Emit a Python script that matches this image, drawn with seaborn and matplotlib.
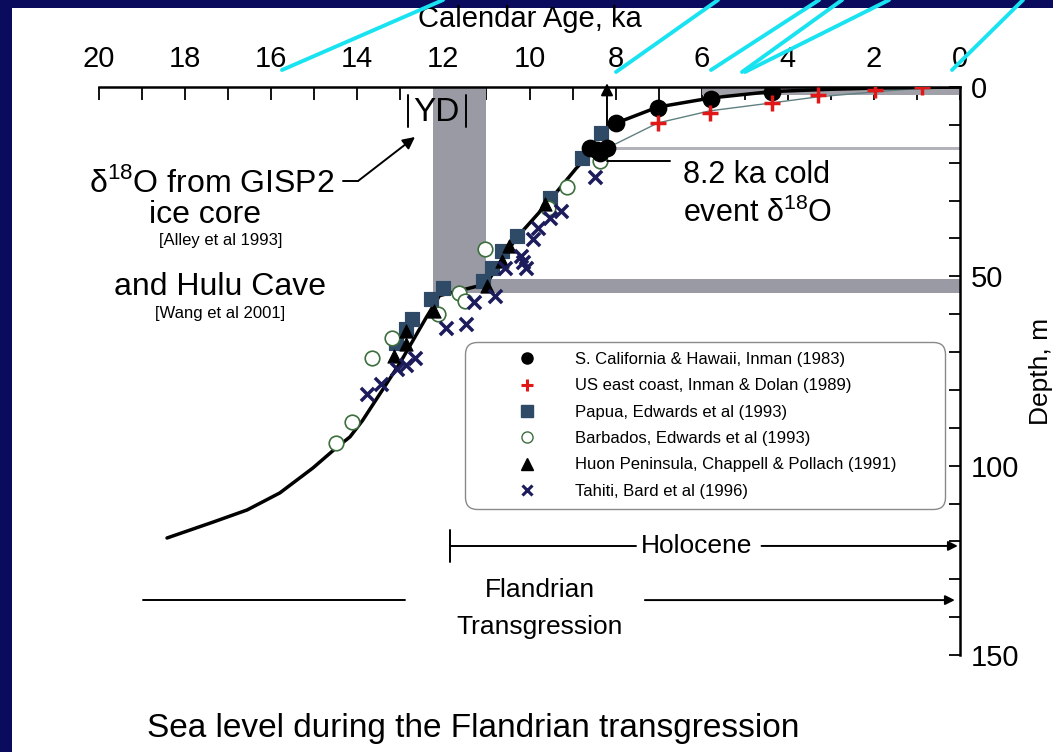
import matplotlib
matplotlib.use("Agg")
import matplotlib.pyplot as plt
import seaborn as sns
from matplotlib.lines import Line2D
from matplotlib.patches import Rectangle

sns.set_style("white")
plt.rcParams['font.family'] = ['Liberation Sans', 'DejaVu Sans']
plt.rcParams['mathtext.fontset'] = 'custom'
plt.rcParams['mathtext.rm'] = 'Liberation Sans'
plt.rcParams['text.color'] = 'black'
plt.rcParams['axes.labelcolor'] = 'black'
plt.rcParams['xtick.color'] = 'black'
plt.rcParams['ytick.color'] = 'black'

# ---- data (ages in ka, depth in m) ----
curve_age = [18.42, 17.35, 16.56, 15.80, 15.03, 14.47, 14.17, 13.88, 13.02,
             12.40, 12.09, 11.00, 10.77, 10.30, 9.60, 8.91, 8.53, 8.19]
curve_depth = [119.1, 114.9, 111.7, 107.2, 100.6, 95.1, 92.4, 88.1, 73.1,
               60.9, 55.1, 52.0, 47.8, 39.8, 30.9, 21.4, 16.9, 16.1]
upper_age = [7.98, 7.02, 5.79, 4.37, 3.0, 2.0, 0.0]
upper_depth = [9.5, 5.3, 2.9, 1.2, 0.6, 0.3, 0.0]
thin_age = [8.19, 7.02, 5.81, 4.37, 3.30, 1.98, 0.93, 0.0]
thin_depth = [16.1, 9.5, 6.3, 4.2, 2.6, 1.3, 0.3, 0.0]

calif_age = [7.98, 7.02, 5.79, 4.37, 8.60, 8.44, 8.19, 8.37]
calif_depth = [9.5, 5.5, 3.2, 1.3, 16.0, 16.6, 16.1, 17.4]
east_age = [7.02, 5.81, 4.37, 3.30, 1.98, 0.88]
east_depth = [9.5, 6.9, 4.2, 2.1, 0.8, 0.0]
papua_age = [8.33, 8.77, 9.53, 10.30, 10.63, 10.86, 11.09, 12.02, 12.28,
             12.74, 12.86, 13.09]
papua_depth = [12.1, 18.7, 29.3, 39.3, 43.3, 47.8, 51.2, 53.0, 55.9,
               61.2, 63.9, 67.5]
barb_age = [8.37, 9.12, 9.58, 11.03, 11.63, 11.49, 12.12, 13.19, 13.65,
            14.12, 14.49]
barb_depth = [19.5, 26.3, 31.9, 42.7, 54.4, 56.5, 59.9, 66.2, 71.5,
              88.5, 93.9]
huon_age = [9.65, 10.47, 10.65, 10.98, 12.21, 12.86, 12.86, 13.14]
huon_depth = [30.9, 42.0, 45.9, 52.5, 59.1, 64.4, 67.8, 71.0]
tahiti_age = [8.49, 9.26, 9.53, 9.81, 9.93, 10.19, 10.16, 10.07, 10.58,
              10.81, 11.28, 11.47, 11.93, 12.67, 12.86, 13.07, 13.44, 13.77]
tahiti_depth = [23.8, 32.7, 34.6, 37.2, 40.1, 44.6, 46.2, 47.8, 47.8,
                55.1, 56.7, 62.6, 63.6, 71.5, 73.3, 74.4, 78.4, 81.0]

legend_labels = ["S. California & Hawaii, Inman (1983)",
                 "US east coast, Inman & Dolan (1989)",
                 "Papua, Edwards et al (1993)",
                 "Barbados, Edwards et al (1993)",
                 "Huon Peninsula, Chappell & Pollach (1991)",
                 "Tahiti, Bard et al (1996)"]

yd_age = (12.25, 11.0)
yd_depth = (50.7, 54.4)
event_age = 8.2
event_depth = (15.8, 16.7)
top_band_age = 6.0
top_band_depth = 2.0

# slide decoration lines (pixels)
cyan_lines = [(443, 0, 282, 70), (718, 0, 616, 72), (819, 0, 711, 70),
              (842, 0, 742, 72), (889, 0, 745, 72), (1023, 0, 952, 70)]

W, H = 1053, 752
fig = plt.figure(figsize=(W / 100, H / 100), dpi=100, facecolor='#0b0b5e')
fig.patches.append(Rectangle((12 / W, 0), 1, 1 - 8 / H, transform=fig.transFigure,
                             facecolor='white', edgecolor='none', zorder=-5))
ax = fig.add_axes([99 / W, 1 - 655 / H, (960 - 99) / W, (655 - 87) / H])
ax.set_zorder(2)
ax.patch.set_alpha(0)
ax.set_xlim(20, 0)
ax.set_ylim(150, 0)

gray = '#9a9aa4'
ax.fill_betweenx([0, yd_depth[1]], yd_age[1], yd_age[0], color=gray, lw=0, zorder=1)
ax.fill_between([yd_age[1], 0], yd_depth[0], yd_depth[1], color=gray, lw=0, zorder=1)
ax.fill_between([event_age, 0], event_depth[0], event_depth[1], color='#b2b2ba', lw=0, zorder=1)
ax.fill_between([top_band_age, 0], 0, top_band_depth, color='#a0a0a8', lw=0, zorder=1)

sns.lineplot(x=curve_age, y=curve_depth, sort=False, estimator=None, color='black',
             linewidth=2.5, ax=ax, zorder=3)
sns.lineplot(x=upper_age, y=upper_depth, sort=False, estimator=None, color='black',
             linewidth=2.5, ax=ax, zorder=3)
sns.lineplot(x=thin_age, y=thin_depth, sort=False, estimator=None, color='#5f7f80',
             linewidth=1.0, ax=ax, zorder=2)

sns.scatterplot(x=papua_age, y=papua_depth, marker='s', color='#2e4a66', s=110,
                edgecolor='#2e4a66', ax=ax, zorder=4)
sns.scatterplot(x=barb_age, y=barb_depth, marker='o', color='white', s=110,
                edgecolor='#3d6e3d', linewidth=1.2, ax=ax, zorder=4)
sns.scatterplot(x=huon_age, y=huon_depth, marker='^', color='black', s=90,
                edgecolor='black', ax=ax, zorder=5)
sns.scatterplot(x=tahiti_age, y=tahiti_depth, marker='x', color='#1c1c5c', s=90,
                linewidth=2.5, ax=ax, zorder=5)
sns.scatterplot(x=calif_age, y=calif_depth, marker='o', color='black', s=140,
                edgecolor='black', ax=ax, zorder=6)
sns.scatterplot(x=east_age, y=east_depth, marker='+', color='#e01818', s=140,
                linewidth=2.5, ax=ax, zorder=6)

# axes styling
for side in ['left', 'bottom']:
    ax.spines[side].set_visible(False)
for side in ['top', 'right']:
    ax.spines[side].set_visible(True)
    ax.spines[side].set_color('black')
    ax.spines[side].set_linewidth(1.8)
ax.xaxis.tick_top()
ax.xaxis.set_label_position('top')
ax.set_xticks(range(0, 21, 2))
ax.set_xticks(range(1, 20, 2), minor=True)
ax.yaxis.tick_right()
ax.yaxis.set_label_position('right')
ax.set_yticks([0, 50, 100, 150])
ax.set_yticks(range(10, 150, 10), minor=True)
ax.tick_params(axis='x', which='both', direction='in', length=9, width=1.3,
               top=True, bottom=False, labeltop=True, labelbottom=False, pad=10,
               labelsize=21)
ax.tick_params(axis='y', which='both', direction='in', length=8, width=1.3,
               right=True, left=False, labelright=True, labelleft=False, pad=8,
               labelsize=21)
ax.set_xlabel('Calendar Age, ka', fontsize=21, labelpad=13)
ax.set_ylabel('Depth, m', fontsize=19, labelpad=7)
ax.grid(False)

# legend
handles = [
    Line2D([], [], ls='', marker='o', color='black', markersize=8),
    Line2D([], [], ls='', marker='+', color='#e01818', markersize=9, markeredgewidth=2.2),
    Line2D([], [], ls='', marker='s', color='#2e4a66', markersize=8),
    Line2D([], [], ls='', marker='o', markerfacecolor='white', markeredgecolor='#3d6e3d',
           markersize=8, markeredgewidth=1.0),
    Line2D([], [], ls='', marker='^', color='black', markersize=8),
    Line2D([], [], ls='', marker='x', color='#1c1c5c', markersize=7, markeredgewidth=2.2),
]
leg = ax.legend(handles, legend_labels, loc='upper left', mode='expand',
                bbox_to_anchor=(0.4251, 0.30, 0.5575, 0.251), borderaxespad=0,
                fontsize=12, borderpad=0.6, handlelength=6.24, handletextpad=-0.24,
                labelspacing=0.68, frameon=True, fancybox=True, framealpha=1)
leg.get_frame().set_edgecolor('#8a8a8a')
leg.get_frame().set_linewidth(1.0)
leg.get_frame().set_boxstyle('round,pad=0,rounding_size=0.7')
leg.set_zorder(7)

# annotations
kw = dict(color='black', lw=1.4, clip_on=False, zorder=6)
ax.plot([yd_age[0] + 0.58, yd_age[0] + 0.58], [2, 10.6], **kw)
ax.plot([yd_age[1] + 0.48, yd_age[1] + 0.48], [2, 10.6], **kw)
ax.text(12.17, 6.7, 'YD', fontsize=24, ha='center', va='center')

ax.plot([14.33, 13.98], [24.8, 24.8], **kw)
ax.annotate('', xy=(12.66, 13.2), xytext=(13.98, 24.8),
            arrowprops=dict(arrowstyle='-|>', color='black', lw=1.4,
                            mutation_scale=18, shrinkA=0, shrinkB=0))
ax.text(17.38, 25.4, r'δ$^{18}$O from GISP2', fontsize=23, ha='center', va='center')
ax.text(17.54, 33.8, 'ice core', fontsize=23, ha='center', va='center')
ax.text(17.17, 40.6, '[Alley et al 1993]', fontsize=12, ha='center', va='center')
ax.text(17.19, 52.8, 'and Hulu Cave', fontsize=23, ha='center', va='center')
ax.text(17.19, 59.7, '[Wang et al 2001]', fontsize=12, ha='center', va='center')

ax.plot([event_age, 6.74], [19.5, 19.5], **kw)
ax.annotate('', xy=(event_age, -1.0), xytext=(event_age, 19.5), annotation_clip=False,
            arrowprops=dict(arrowstyle='-|>', color='black', lw=1.4,
                            mutation_scale=18, shrinkA=0, shrinkB=0))
ax.text(6.43, 23.2, '8.2 ka cold', fontsize=22, ha='left', va='center')
ax.text(6.43, 33.3, r'event δ$^{18}$O', fontsize=22, ha='left', va='center')

ax.plot([11.85, 11.85], [117, 125.4], **kw)
ax.plot([11.85, 7.53], [121.2, 121.2], **kw)
ax.text(6.11, 121.2, 'Holocene', fontsize=19, ha='center', va='center')
ax.annotate('', xy=(0.05, 121.2), xytext=(4.61, 121.2), annotation_clip=False,
            arrowprops=dict(arrowstyle='-|>', color='black', lw=1.4,
                            mutation_scale=14, shrinkA=0, shrinkB=0))

ax.plot([18.98, 12.89], [135.5, 135.5], **kw)
ax.text(9.76, 132.8, 'Flandrian', fontsize=19, ha='center', va='center')
ax.text(9.76, 142.6, 'Transgression', fontsize=19, ha='center', va='center')
ax.annotate('', xy=(0.12, 135.5), xytext=(7.32, 135.5), annotation_clip=False,
            arrowprops=dict(arrowstyle='-|>', color='black', lw=1.4,
                            mutation_scale=14, shrinkA=0, shrinkB=0))

fig.text(473 / W, 1 - 729 / H, 'Sea level during the Flandrian transgression',
         fontsize=24, ha='center', va='center', color='black')

for x0, y0, x1, y1 in cyan_lines:
    fig.add_artist(Line2D([x0 / W, x1 / W], [1 - y0 / H, 1 - y1 / H],
                          transform=fig.transFigure, color='#19e3f0', lw=2.8, zorder=10))

fig.savefig('out.png', dpi=100, facecolor=fig.get_facecolor())
